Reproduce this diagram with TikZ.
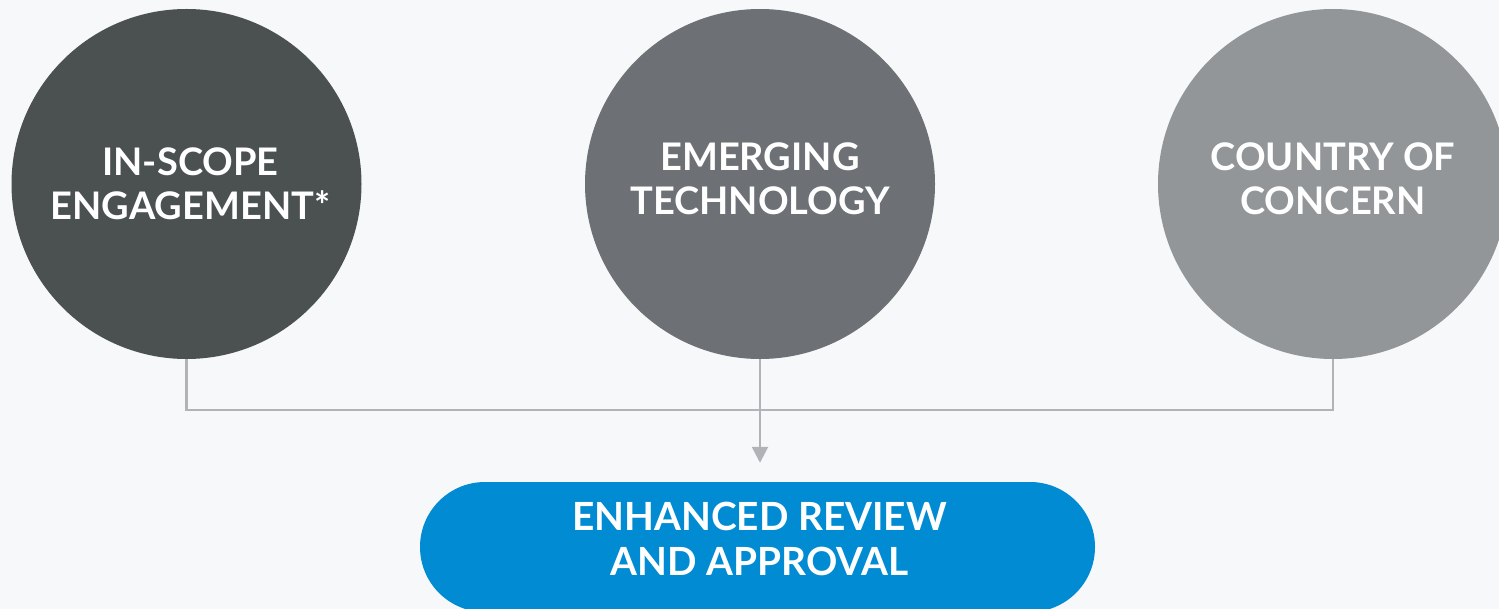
\documentclass[tikz,border=0pt]{standalone}
\usepackage{fontspec}
\setmainfont{Lato}
\usetikzlibrary{arrows.meta}
\definecolor{bg}{HTML}{F7F8FA}
\definecolor{cdark}{HTML}{4B5051}
\definecolor{cmid}{HTML}{6D7175}
\definecolor{clight}{HTML}{929699}
\definecolor{pillblue}{HTML}{008BD2}
\definecolor{linegray}{HTML}{B1B4B7}
\tikzset{
  bubble/.style={circle, minimum size=350pt, inner sep=0pt, draw=none},
  lbl/.style={text=white, font=\fontsize{38}{44.5}\selectfont\bfseries, align=center, inner sep=0pt},
  pill/.style={rectangle, rounded corners=65pt, minimum width=675pt, minimum height=130pt, fill=pillblue, inner sep=0pt},
  conn/.style={draw=linegray, line width=2.6pt},
}
\begin{document}
\begin{tikzpicture}[x=1pt,y=-1pt]
\useasboundingbox[fill=bg] (0,0) rectangle (1499,609);
\node[bubble, fill=cdark] (c1) at (186.5,184) {};
\node[bubble, fill=cmid] (c2) at (760,184) {};
\node[bubble, fill=clight] (c3) at (1333,184) {};
\node[lbl] (t1) at (190.5,184) {IN-SCOPE\\ENGAGEMENT*};
\node[lbl] (t2) at (760,179) {EMERGING\\TECHNOLOGY};
\node[lbl] (t3) at (1333,179) {COUNTRY OF\\CONCERN};
\node[pill] (p) at (757.5,547) {};
\node[lbl, font=\fontsize{38.8}{45}\selectfont\bfseries] (pt) at (759.5,539) {ENHANCED REVIEW\\AND APPROVAL};
\coordinate (j) at (760,410);
\draw[conn] (c1.south) |- (j) -| (c3.south);
\draw[conn, -{Triangle[width=16pt,length=16pt]}, shorten >=19pt] (c2.south) -- (c2.south |- p.north);
\end{tikzpicture}
\end{document}
